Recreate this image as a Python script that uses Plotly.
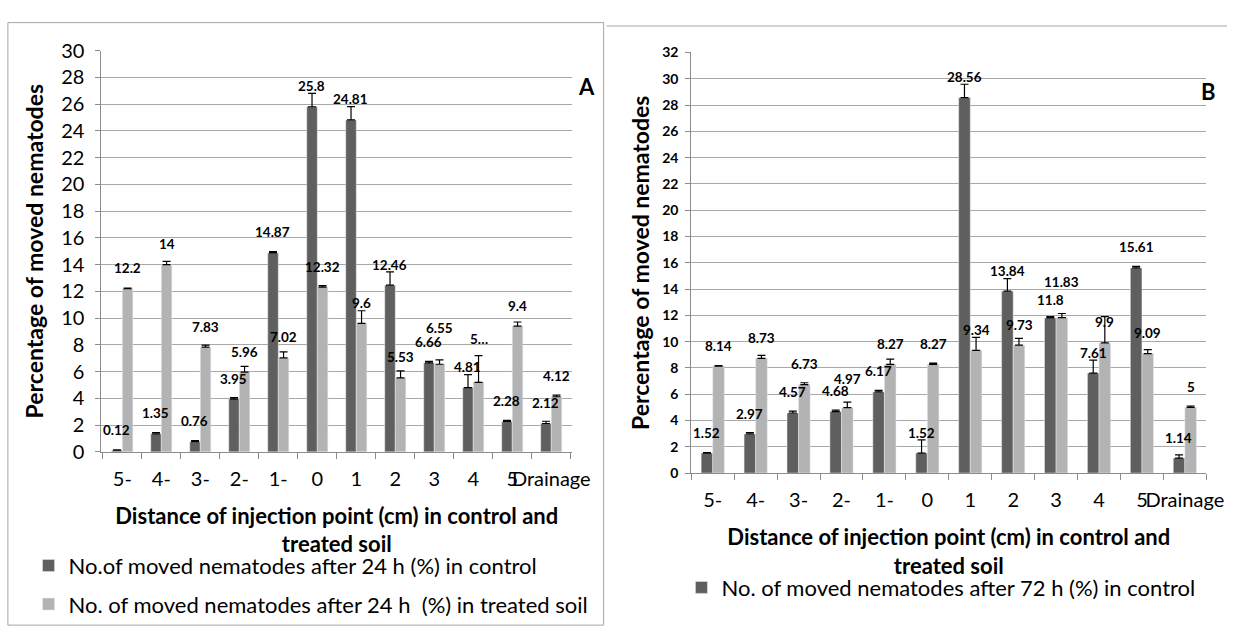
import plotly.graph_objects as go

W, H = 1246, 639

categories = ["5-", "4-", "3-", "2-", "1-", "0", "1", "2", "3", "4", "5", "Drainage"]

# Panel A (24 h)
a_control = [0.12, 1.35, 0.76, 3.95, 14.87, 25.8, 24.81, 12.46, 6.66, 4.81, 2.28, 2.12]
a_control_err = [0.03, 0.1, 0.08, 0.1, 0.1, 1.0, 1.0, 1.0, 0.1, 0.97, 0.08, 0.17]
a_treated = [12.2, 14, 7.83, 5.96, 7.02, 12.32, 9.6, 5.53, 6.55, 5.2, 9.4, 4.12]
a_treated_err = [0.04, 0.24, 0.15, 0.43, 0.46, 0.11, 0.95, 0.52, 0.32, 2.0, 0.31, 0.12]
a_treated_text = ["12.2", "14", "7.83", "5.96", "7.02", "12.32", "9.6", "5.53", "6.55", "5…", "9.4", "4.12"]

# Panel B (72 h)
b_control = [1.52, 2.97, 4.57, 4.68, 6.17, 1.52, 28.56, 13.84, 11.8, 7.61, 15.61, 1.14]
b_control_err = [0.03, 0.11, 0.14, 0.1, 0.12, 1.0, 1.02, 0.96, 0.1, 0.98, 0.12, 0.24]
b_treated = [8.14, 8.73, 6.73, 4.97, 8.27, 8.27, 9.34, 9.73, 11.83, 9.9, 9.09, 5]
b_treated_err = [0.04, 0.23, 0.14, 0.42, 0.4, 0.1, 0.98, 0.51, 0.31, 2.0, 0.3, 0.1]

y_title = "Percentage of moved nematodes"
x_title = "Distance of injection point (cm) in control and<br>treated soil"
a_names = ["No.of moved nematodes after 24 h (%) in control",
           "No. of moved nematodes after 24 h  (%) in treated soil"]
b_names = ["No. of moved nematodes after 72 h (%) in control",
           "No. of moved nematodes after 72 h (%) in treated soil"]

DARK = "#5f5f5f"
LIGHT = "#b3b3b3"
FONT = "Lato"
GRID = "#a8a8a8"
AXIS = "#8c8c8c"

# layout geometry (pixels)
A_X = (103, 581); A_Y = (456, 39)
B_X = (702, 1225); B_Y = (478, 41)
BARGAP = 0.46

def px_dom(x0, x1):
    return [x0 / W, x1 / W]

def py_dom(yb, yt):
    return [1 - yb / H, 1 - yt / H]

fig = go.Figure()

def add_bars(xa, ya, vals, errs, color, name, legend, show):
    fig.add_trace(go.Bar(
        x=categories, y=vals, name=name, marker_color=color,
        xaxis=xa, yaxis=ya, legend=legend, showlegend=show,
        legendgroup=name,
        error_y=dict(type="data", array=errs, arrayminus=[0] * len(errs),
                     symmetric=False, color="black", thickness=1.2, width=4),
    ))

add_bars("x", "y", a_control, a_control_err, DARK, a_names[0], "legend", True)
add_bars("x", "y", a_treated, a_treated_err, LIGHT, a_names[1], "legend", True)
add_bars("x2", "y2", b_control, b_control_err, DARK, b_names[0], "legend2", True)
add_bars("x2", "y2", b_treated, b_treated_err, LIGHT, b_names[1], "legend2", False)

annotations = []

def fmt(v):
    return f"{v:g}"

LABEL_SHIFT = 20.5
# manual label nudges (px), as placed in the original
a_nudge = {("t", 8): 16, ("t", 9): 23}
b_nudge = {("t", 8): 15, ("c", 8): -3, ("t", 3): 8}

def add_labels(xref, yref, xpx, vals_c, vals_t, texts_t, nudge):
    catw = (xpx[1] - xpx[0]) / len(categories)
    off = (1 - BARGAP) * catw / 4
    for i in range(len(categories)):
        for key, vals, texts, sign in (("c", vals_c, None, -1), ("t", vals_t, texts_t, 1)):
            txt = texts[i] if texts else fmt(vals[i])
            annotations.append(dict(
                x=i, y=vals[i], xref=xref, yref=yref, text=f"<b>{txt}</b>",
                showarrow=False, xshift=sign * off,
                yshift=LABEL_SHIFT + nudge.get((key, i), 0),
                font=dict(family=FONT, size=13.5, color="black"),
            ))

add_labels("x", "y", A_X, a_control, a_treated, a_treated_text, a_nudge)
add_labels("x2", "y2", B_X, b_control, b_treated, None, b_nudge)

annotations.append(dict(x=596 / W, y=1 - 60 / H, xref="paper", yref="paper", text="<b>A</b>",
                        showarrow=False, font=dict(family=FONT, size=22, color="black")))
annotations.append(dict(x=1237 / W, y=1 - 65 / H, xref="paper", yref="paper", text="<b>B</b>",
                        showarrow=False, font=dict(family=FONT, size=22, color="black")))

shapes = [
    dict(type="rect", xref="paper", yref="paper", x0=8 / W, x1=613 / W, y0=1 - 636 / H, y1=1 - 10 / H,
         line=dict(color="#a6a6a6", width=1)),
    dict(type="line", xref="paper", yref="paper", x0=616 / W, x1=1, y0=1 - 13.5 / H, y1=1 - 13.5 / H,
         line=dict(color="#a6a6a6", width=1)),
]

def xaxis(dom, anchor):
    return dict(domain=dom, anchor=anchor, type="category", tickangle=0,
                showline=True, linecolor=AXIS, linewidth=1, ticks="outside", tickson="boundaries",
                ticklen=6, tickcolor=AXIS, showgrid=False, ticklabelstandoff=9,
                tickfont=dict(family=FONT, size=20, color="black"),
                title=dict(text=f"<b>{x_title}</b>", standoff=19,
                           font=dict(family=FONT, size=22, color="black")))

def yaxis(dom, anchor, rng, tfont, lab_standoff, standoff):
    return dict(domain=dom, anchor=anchor, range=rng, dtick=2, showline=True, linecolor=AXIS,
                linewidth=1, ticks="outside", ticklen=5, tickcolor=AXIS, showgrid=True,
                gridcolor=GRID, gridwidth=1, zeroline=False, tickfont=tfont,
                ticklabelstandoff=lab_standoff,
                title=dict(text=f"<b>{y_title}</b>", standoff=standoff,
                           font=dict(family=FONT, size=23, color="black")))

fig.update_layout(
    width=W, height=H, margin=dict(l=0, r=0, t=0, b=0),
    paper_bgcolor="white", plot_bgcolor="white",
    barmode="group", bargap=BARGAP, bargroupgap=0,
    xaxis=xaxis(px_dom(*A_X), "y"),
    yaxis=yaxis(py_dom(*A_Y), "x", [0, 30], dict(family=FONT, size=20, color="black"), 7, 11),
    xaxis2=xaxis(px_dom(*B_X), "y2"),
    yaxis2=yaxis(py_dom(*B_Y), "x2", [0, 32], dict(family=FONT, size=14, color="black", weight="bold"), 4, 6),
    legend=dict(x=29 / W, y=1 - 594.5 / H, xanchor="left", yanchor="middle", orientation="v",
                font=dict(family=FONT, size=22, color="black"), tracegroupgap=7,
                bgcolor="rgba(0,0,0,0)"),
    legend2=dict(x=692 / W, y=1 - 597 / H, xanchor="left", yanchor="middle", orientation="v",
                 font=dict(family=FONT, size=22, color="black"),
                 bgcolor="rgba(0,0,0,0)"),
    annotations=annotations, shapes=shapes,
)

fig.write_html("out.html", config={"displayModeBar": False},
               post_script="document.body.style.margin='0';")
